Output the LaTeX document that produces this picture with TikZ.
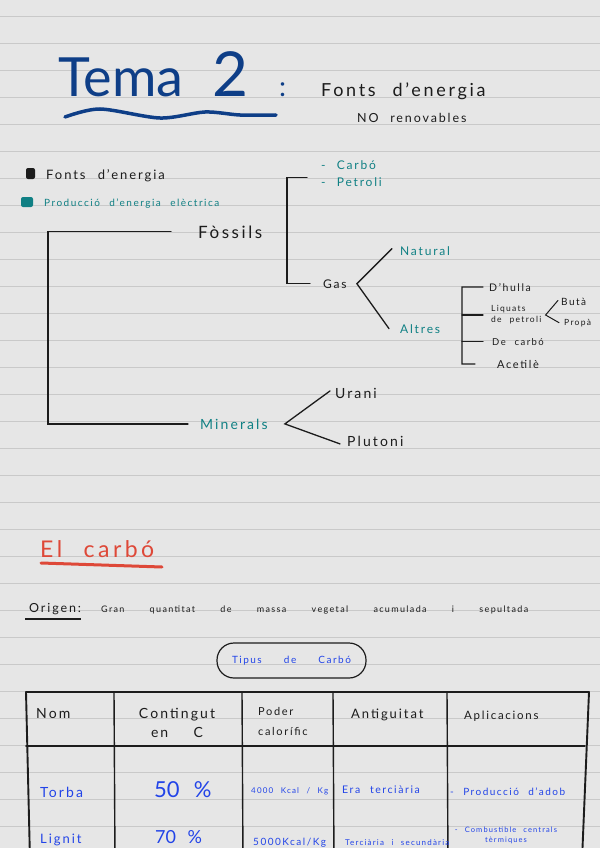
\documentclass[tikz,border=0pt]{standalone}
\usepackage{fontspec}
\setmainfont{Lato}[LetterSpace=15,WordSpace=2.3]
\newfontfamily\titlefont{Lato}
\newfontfamily\plainfont{Lato}[WordSpace=2.5]
\usepackage{xcolor}
\usetikzlibrary{positioning, calc}
\definecolor{paper}{RGB}{230, 230, 230}
\definecolor{ruling}{RGB}{201, 201, 201}
\definecolor{ink}{RGB}{28, 28, 28}
\definecolor{titleblue}{RGB}{14, 62, 135}
\definecolor{inkteal}{RGB}{16, 128, 132}
\definecolor{inkred}{RGB}{222, 72, 56}
\definecolor{inkblue}{RGB}{34, 68, 232}
\newcommand{\handsz}[1]{\fontsize{#1}{#1}\selectfont}
\tikzset{
  hand/.style={anchor=base west, inner sep=0pt, text=ink},
  handteal/.style={hand, text=inkteal},
  handblue/.style={hand, text=inkblue},
  treeline/.style={draw=ink, line width=1.3pt, line cap=round},
  tableline/.style={draw=ink, line width=1.9pt, line cap=round},
  colline/.style={draw=ink, line width=1.4pt},
  ruled/.style={draw=ruling, line width=0.9pt}
}

\begin{document}
\begin{tikzpicture}[x=1pt, y=-1pt]

  %% — — — Paper — — —
  \useasboundingbox (0,0) rectangle (600,848);
  \clip (0,0) rectangle (600,848);
  \fill[paper] (0,0) rectangle (600,848);
  \foreach \k in {0,...,31}
    \draw[ruled] (0,{16+27*\k}) -- (600,{16+27*\k});

  %% — — — Title — — —
  \node[hand, font=\titlefont\handsz{54}, text=titleblue] (tema) at (58,97) {Tema};
  \node[hand, font=\titlefont\handsz{62}, text=titleblue] (two) at (212,97) {2};
  \node[hand, font=\titlefont\handsz{28}, text=titleblue] (colon) at (279,97) {:};
  \draw[titleblue, line width=3.5pt, line cap=round]
    plot[smooth] coordinates {(65,117) (100,109) (160,118) (205,112) (240,115) (276,115)};

  \node[hand, font=\handsz{18}] (fonts) at (321,97) {Fonts d'energia};
  \node[hand, font=\handsz{12.5}] (norenov) at (357,123) {NO renovables};

  %% — — — Legend — — —
  \node[fill=ink, rounded corners=2pt, minimum width=9pt, minimum height=11pt,
    inner sep=0pt] (dotblack) at (30.5,173.5) {};
  \node[hand, font=\handsz{13}] (legfonts) at (46,179) {Fonts d'energia};
  \node[fill=inkteal, rounded corners=2pt, minimum width=12pt, minimum height=10pt,
    inner sep=0pt] (dotteal) at (27,202) {};
  \node[handteal, font=\handsz{10}] (legprod) at (44,206) {Producció d'energia elèctrica};

  %% — — — Tree — — —
  \node[hand, font=\handsz{17}] (fossils) at (198,238) {Fòssils};
  \node[handteal, font=\handsz{12}] (carbo) at (321,169) {- Carbó};
  \node[handteal, font=\handsz{12}] (petroli) at (321,186) {- Petroli};
  \node[hand, font=\handsz{12}] (gas) at (323,288) {Gas};
  \node[handteal, font=\handsz{12}] (natural) at (400,255) {Natural};
  \node[handteal, font=\handsz{12}] (altres) at (400,333) {Altres};

  \node[hand, font=\handsz{10.5}] (dhulla) at (489,291) {D'hulla};
  \node[anchor=west, inner sep=0pt, align=left, text=ink,
    font=\fontsize{8.5}{11}\selectfont] (liquats) at (491,315) {Liquats\\de petroli};
  \node[hand, font=\handsz{9.5}] (decarbo) at (492,345) {De carbó};
  \node[hand, font=\handsz{11}] (acetile) at (497,368) {Acetilè};
  \node[hand, font=\handsz{10}] (buta) at (561,305) {Butà};
  \node[hand, font=\handsz{8.5}] (propa) at (564,325) {Propà};

  \node[handteal, font=\handsz{14}] (minerals) at (200,429) {Minerals};
  \node[hand, font=\handsz{14}] (urani) at (335,398) {Urani};
  \node[hand, font=\handsz{14}] (plutoni) at (347,446) {Plutoni};

  \coordinate (altbar) at (462,287);

  \draw[treeline] ([xshift=-27pt]fossils.west) -- ++(-123,0)
    |- ([xshift=-12pt]minerals.west);
  \draw[treeline] ([xshift=-13pt]gas.west) -- ++(-23,0)
    |- ([xshift=-14pt]$(carbo.west)!0.75!(petroli.west)$);
  \draw[treeline] ([xshift=-8pt,yshift=2pt]natural.west) -- ([xshift=10pt]gas.east)
    -- ([xshift=-11pt]altres.west);
  \draw[treeline] ([xshift=-6pt]dhulla.west) -- (altbar) |- ([xshift=-22pt]acetile.west);
  \draw[treeline] ([xshift=-8pt]liquats.west) -- (altbar |- liquats.west);
  \draw[treeline] ([xshift=-9pt]decarbo.west) -- (altbar |- decarbo.west);
  \draw[treeline, line width=1pt] ([xshift=-3pt,yshift=1pt]buta.west)
    -- ([xshift=4pt]liquats.east) -- ([xshift=-5pt]propa.west);
  \draw[treeline] ([xshift=-5pt,yshift=2pt]urani.west) -- ([xshift=17pt]minerals.east)
    -- ([xshift=-7pt,yshift=-3pt]plutoni.west);

  %% — — — El carbo — — —
  \node[hand, font=\handsz{23}, text=inkred] (elcarbo) at (40,557) {El carbó};
  \draw[inkred, line width=3pt, line cap=round] (41,563) -- (162,567);

  \node[hand, font=\handsz{12.5}] (origen) at (29,612) {Origen:};
  \draw[ink, line width=2pt] (25,619) -- (81,619);
  \node[hand, font=\handsz{9}] (gran) at (101,612)
    {\makebox[427pt][s]{Gran quantitat de massa vegetal acumulada i sepultada}};

  \node[draw=ink, line width=1.2pt, rounded corners=17pt, minimum width=149pt,
    minimum height=35pt, inner sep=0pt, text=inkblue, font=\handsz{10}] (tipus)
    at (291.5,660.5) {\makebox[119pt][s]{Tipus de Carbó}};

  %% — — — Table — — —
  \draw[tableline] (26,692) -- (589,692);
  \draw[tableline] (26,746) -- (585,746);
  \draw[tableline] (26,692) -- (30,860);
  \draw[tableline] (589,692) -- (582,860);
  \foreach \cx in {114,242,333,447}
    \draw[colline] (\cx,692) -- (\cx+1,860);

  \node[hand, font=\handsz{14}] (nom) at (36,718) {Nom};
  \node[anchor=center, inner sep=0pt, align=center, text=ink,
    font=\fontsize{14}{19}\selectfont] (contingut) at (177,723)
    {Contingut\\\makebox[52pt][s]{en C}};
  \node[anchor=west, inner sep=0pt, align=left, text=ink,
    font=\fontsize{11}{20}\selectfont] (poder) at (258,721) {Poder\\calorífic};
  \node[hand, font=\handsz{13}] (antiguitat) at (351,718) {Antiguitat};
  \node[hand, font=\handsz{11.5}] (aplicacions) at (464,719) {Aplicacions};

  \node[handblue, font=\handsz{14}] (torba) at (40,797) {Torba};
  \node[handblue, font=\plainfont\handsz{22}] (cinquanta) at (154,797) {50 \%};
  \node[handblue, font=\handsz{8}] (kcalA) at (251,793) {4000 Kcal / Kg};
  \node[handblue, font=\handsz{10.5}] (era) at (342,793) {Era terciària};
  \node[handblue, font=\handsz{10}] (adob) at (450,795) {- Producció d'adob};

  \node[handblue, font=\handsz{13}] (lignit) at (40,843.5) {Lignit};
  \node[handblue, font=\plainfont\handsz{18}] (setanta) at (155,843) {70 \%};
  \node[handblue, font=\handsz{10}] (kcalB) at (253,845) {5000Kcal/Kg};
  \node[handblue, font=\handsz{8}] (terciaria) at (345,845) {Terciària i secundària};
  \node[anchor=center, inner sep=0pt, align=center, text=inkblue,
    font=\fontsize{7.5}{10}\selectfont] (combustible) at (506,835)
    {- Combustible centrals\\tèrmiques};

\end{tikzpicture}
\end{document}
